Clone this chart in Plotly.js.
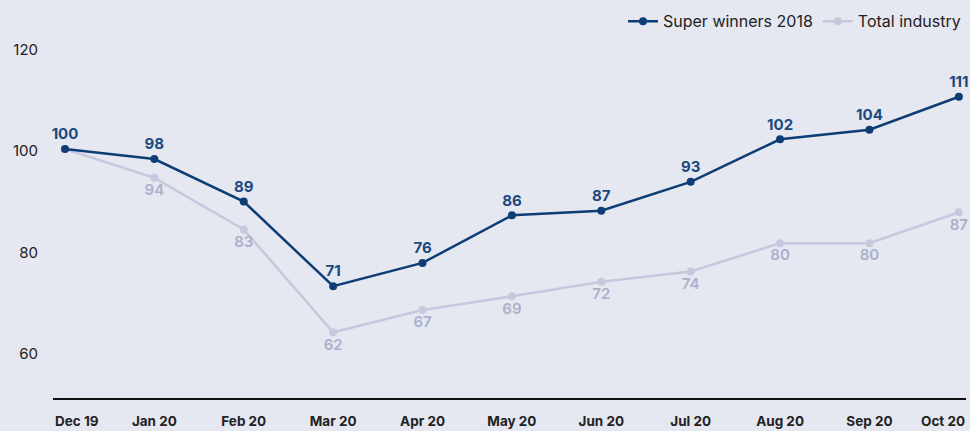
<!DOCTYPE html>
<html>
<head>
<meta charset="utf-8">
<script src="https://cdn.plot.ly/plotly-3.0.1.min.js"></script>
<style>
  html, body { margin: 0; padding: 0; background: #e5e7f1; }
  #plotArea { width: 970px; height: 431px; }
</style>
</head>
<body>
<div id="plotArea"></div>
<script>
// months on the x axis
var months = ["Dec 19", "Jan 20", "Feb 20", "Mar 20", "Apr 20", "May 20", "Jun 20", "Jul 20", "Aug 20", "Sep 20", "Oct 20"]

// plotted values (read from point positions)
var superWinners = [100.4, 98.4, 90.0, 73.3, 77.9, 87.3, 88.2, 93.9, 102.3, 104.2, 110.7]
var totalIndustry = [100.4, 94.7, 84.5, 64.2, 68.6, 71.3, 74.2, 76.2, 81.8, 81.8, 87.9]

// printed labels
var superLabels = ["100", "98", "89", "71", "76", "86", "87", "93", "102", "104", "111"]
var totalLabels = ["", "94", "83", "62", "67", "69", "72", "74", "80", "80", "87"]

var navy = "#0d3d75"
var grey = "#c6c9de"

var traceTotal = {
    x: months,
    y: totalIndustry,
    name: "Total industry",
    type: "scatter",
    mode: "lines+markers+text",
    line: { color: grey, width: 2.5 },
    marker: { color: grey, size: 8 },
    text: totalLabels,
    textposition: "bottom center",
    textfont: { family: "Inter, sans-serif", size: 15, color: "#aab0cc", weight: 600 },
    cliponaxis: false
}

var traceSuper = {
    x: months,
    y: superWinners,
    name: "Super winners 2018",
    type: "scatter",
    mode: "lines+markers+text",
    line: { color: navy, width: 2.5 },
    marker: { color: navy, size: 8 },
    text: superLabels,
    textposition: "top center",
    textfont: { family: "Inter, sans-serif", size: 15, color: "#1b4a80", weight: 700 },
    cliponaxis: false
}

// middle month labels stay as tick labels, the two end ones are pinned to the axis ends
var tickText = months.map((m, i) => (i == 0 || i == months.length - 1) ? "" : m)
var endLabels = [
    { x: months[0], xanchor: "left", xshift: -12 },
    { x: months[months.length - 1], xanchor: "right", xshift: 8 }
].map(a => ({
    x: a.x,
    y: 0,
    yref: "paper",
    yanchor: "middle",
    yshift: -23,
    xanchor: a.xanchor,
    xshift: a.xshift,
    text: a.x,
    showarrow: false,
    font: { family: "Inter, sans-serif", size: 13.5, color: "#222", weight: 700 }
}))

var layout = {
    width: 970,
    height: 431,
    paper_bgcolor: "#e5e7f1",
    plot_bgcolor: "#e5e7f1",
    margin: { l: 53, r: 4, t: 20, b: 33 },
    font: { family: "Inter, sans-serif", color: "#222" },
    showlegend: true,
    legend: {
        orientation: "h",
        x: 1.0,
        xanchor: "right",
        y: 1.01,
        yanchor: "middle",
        bgcolor: "rgba(0,0,0,0)",
        font: { size: 16, color: "#222" },
        traceorder: "reversed"
    },
    xaxis: {
        type: "category",
        range: [-0.134, 10.08],
        tickvals: months,
        ticktext: tickText,
        showgrid: false,
        zeroline: false,
        showline: true,
        linecolor: "#111",
        linewidth: 1.5,
        ticks: "",
        ticklabelstandoff: 10,
        tickfont: { size: 13.5, color: "#222", weight: 700 }
    },
    yaxis: {
        range: [51.23, 124.87],
        tickvals: [60, 80, 100, 120],
        showgrid: false,
        zeroline: false,
        showline: false,
        ticks: "",
        ticklabelstandoff: 14,
        tickfont: { size: 15, color: "#222" }
    },
    annotations: endLabels
}

Plotly.newPlot("plotArea", [traceTotal, traceSuper], layout, { displayModeBar: false })
</script>
</body>
</html>
